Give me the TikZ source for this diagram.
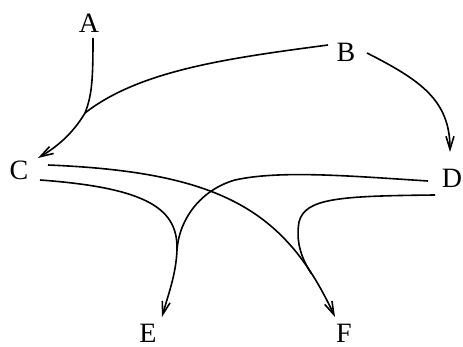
\documentclass[tikz,border=0pt]{standalone}
\usepackage{fontspec}
\setmainfont{Liberation Serif}
\usetikzlibrary{arrows.meta,calc}
\begin{document}
\begin{tikzpicture}[x=1pt,y=-1pt,
  lbl/.style={font=\fontsize{28}{32}\selectfont, inner sep=0pt},
  edge/.style={line width=1.6pt},
  arr/.style={edge,-{Straight Barb[length=13pt,width=8pt]}}]
\useasboundingbox (0,0) rectangle (463,347);
\node[lbl] (A) at (89,23) {A};
\node[lbl] (B) at (346,52) {B};
\node[lbl] (C) at (19,170) {C};
\node[lbl] (D) at (452,178) {D};
\node[lbl] (E) at (148,333) {E};
\node[lbl] (F) at (344,333) {F};
% connector end points
\coordinate (a0) at ($(A)+(4,15)$);
\coordinate (b1) at ($(B)+(-18,-7)$);
\coordinate (b2) at ($(B)+(21,1)$);
\coordinate (ctip) at ($(C)+(19,-12)$);
\coordinate (c1) at ($(C)+(29,-5)$);
\coordinate (c2) at ($(C)+(21,10)$);
\coordinate (dtip) at ($(D)+(-2,-26)$);
\coordinate (d1) at ($(D)+(-24,3)$);
\coordinate (d2) at ($(D)+(-17,17)$);
\coordinate (etip) at ($(E)+(14,-16)$);
\coordinate (ftip) at ($(F)+(-9,-16)$);
\coordinate (m1) at (85,113);
\coordinate (m2) at (177,250);
% A -> C and B -> C (merged)
\draw[arr] (a0) .. controls (93,80) and (92,95) .. (m1) .. controls (72,135) and (55,148) .. (ctip);
\draw[edge] (b1) .. controls (230,58) and (140,70) .. (m1);
% B -> D
\draw[arr] (b2) .. controls (420,80) and (450,100) .. (dtip);
% C -> F and D -> F (merged)
\draw[arr] (c1) .. controls (220,172) and (285,210) .. (ftip) coordinate[pos=0.85] (m3);
\draw[edge] (d2) .. controls (340,196) and (305,198) .. (299,222) .. controls (296,240) and (300,256) .. (m3);
% C -> E and D -> E (merged)
\draw[arr] (c2) .. controls (150,188) and (178,210) .. (m2) .. controls (176,275) and (168,295) .. (etip);
\draw[edge] (d1) .. controls (350,176) and (280,170) .. (235,180) .. controls (200,190) and (179,220) .. (m2);
\end{tikzpicture}
\end{document}
